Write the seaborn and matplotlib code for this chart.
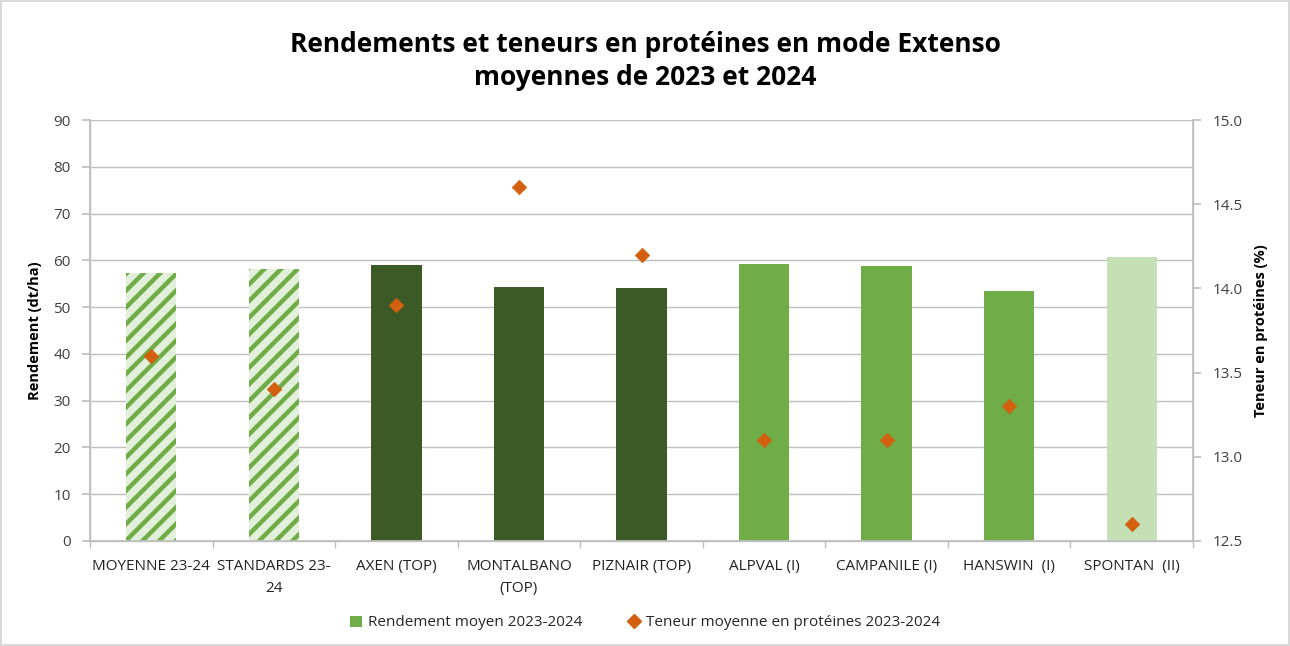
import matplotlib
matplotlib.use("Agg")
import matplotlib.pyplot as plt
import seaborn as sns
import pandas as pd
from matplotlib.patches import Patch
from matplotlib.lines import Line2D

categories = ["MOYENNE 23-24", "STANDARDS 23-\n24", "AXEN (TOP)", "MONTALBANO\n(TOP)",
              "PIZNAIR (TOP)", "ALPVAL (I)", "CAMPANILE (I)", "HANSWIN  (I)", "SPONTAN  (II)"]
rendement = [57.3, 58.1, 59.0, 54.3, 54.1, 59.2, 58.8, 53.4, 60.7]
proteines = [13.6, 13.4, 13.9, 14.6, 14.2, 13.1, 13.1, 13.3, 12.6]
groupe = ["ref", "ref", "top", "top", "top", "I", "I", "I", "II"]

title = "Rendements et teneurs en protéines en mode Extenso\nmoyennes de 2023 et 2024"
ylabel_left = "Rendement (dt/ha)"
ylabel_right = "Teneur en protéines (%)"
legend_bar = "Rendement moyen 2023-2024"
legend_pt = "Teneur moyenne en protéines 2023-2024"

palette = {"ref": "#E2EFDA", "top": "#3B5A26", "I": "#70AD47", "II": "#C5E0B4"}
orange = "#D2600F"

sns.set_theme(style="white")
plt.rcParams['font.family'] = ['Open Sans', 'DejaVu Sans']
plt.rcParams['hatch.linewidth'] = 3.2

df = pd.DataFrame({"cat": categories, "rend": rendement, "prot": proteines, "grp": groupe})

fig = plt.figure(figsize=(12.9, 6.46), dpi=100)
fig.patch.set_edgecolor("#D9D9D9")
fig.patch.set_linewidth(1.5)
ax = fig.add_axes([90/1290, 105/646, (1193-90)/1290, (541-120)/646])

sns.barplot(data=df, x="cat", y="rend", hue="grp", palette=palette, dodge=False,
            width=0.41, ax=ax, legend=False, saturation=1)
for bar in ax.patches:
    cx = bar.get_x() + bar.get_width() / 2
    idx = int(round(cx))
    bar.set_linewidth(0)
    if 0 <= idx < len(groupe) and groupe[idx] == "ref":
        bar.set_hatch("//")
        bar.set_edgecolor("#70AD47")

ax.set_ylim(0, 90)
ax.set_xlim(-0.5, len(categories) - 0.5)
ax.set_yticks(range(0, 91, 10))
ax.yaxis.grid(True, color="#BFBFBF", linewidth=1)
ax.set_axisbelow(True)
ax.set_xlabel("")
ax.set_ylabel(ylabel_left, fontsize=10.5, fontweight="bold", color="black", labelpad=8)
ax.tick_params(axis="y", labelsize=11, colors="#404040", length=6, color="#BFBFBF", direction="out", left=True, pad=8)
ax.tick_params(axis="x", labelsize=11, colors="#222222", length=0, pad=13)
for lab in ax.get_xticklabels():
    lab.set_color("#222222")
    lab.set_linespacing(1.6)
ax.set_xticks([i - 0.5 for i in range(len(categories) + 1)], minor=True)
ax.tick_params(axis="x", which="minor", length=5, color="#BFBFBF", bottom=True, direction="out")
ax.spines["top"].set_visible(False)
for s in ["left", "right", "bottom"]:
    ax.spines[s].set_color("#BFBFBF")
    ax.spines[s].set_linewidth(1)

ax2 = ax.twinx()
sns.scatterplot(x=list(range(len(categories))), y=proteines, marker="D", s=55,
                color=orange, edgecolor=orange, linewidth=0.5, ax=ax2, zorder=5)
ax2.set_ylim(12.5, 15.0)
ax2.set_yticks([12.5, 13.0, 13.5, 14.0, 14.5, 15.0])
ax2.set_yticklabels(["12.5", "13.0", "13.5", "14.0", "14.5", "15.0"])
ax2.tick_params(axis="y", labelsize=11, colors="#404040", length=6, color="#BFBFBF", direction="out", right=True, pad=8)
ax2.set_ylabel(ylabel_right, fontsize=10.5, fontweight="bold", color="black", labelpad=8)
ax2.spines["top"].set_visible(False)
for s in ["left", "right", "bottom"]:
    ax2.spines[s].set_color("#BFBFBF")
ax2.grid(False)

fig.suptitle(title, fontsize=19, fontweight="bold", color="black", y=0.952, linespacing=1.3)

handles = [Patch(facecolor="#70AD47", edgecolor="none", label=legend_bar),
           Line2D([0], [0], marker="D", linestyle="none", markersize=7, color=orange, label=legend_pt)]
fig.legend(handles=handles, loc="center", bbox_to_anchor=(0.5, 23/646), ncol=2, frameon=False,
           fontsize=11, handlelength=0.8, handletextpad=0.4, columnspacing=3)

fig.savefig("out.png", dpi=100)
